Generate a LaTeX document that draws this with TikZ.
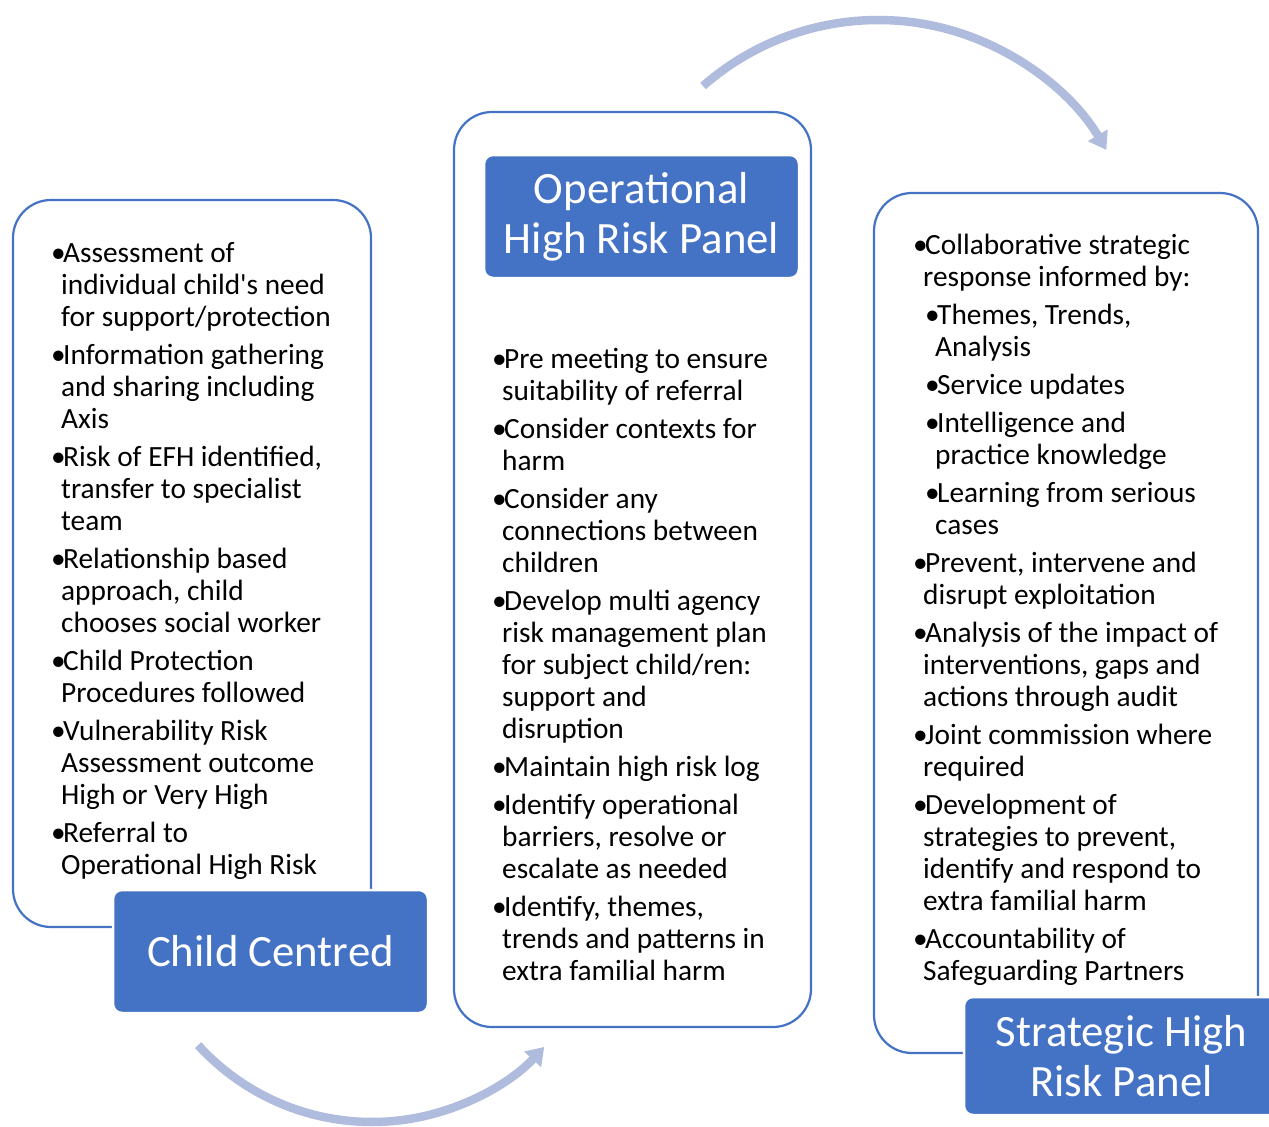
\documentclass[tikz,border=0pt]{standalone}
\usepackage{fontspec}
\setmainfont{Carlito}[Ligatures=TeXOff]
\usetikzlibrary{arrows.meta}

\definecolor{accent}{HTML}{4472C4}
\definecolor{cyclearrow}{RGB}{176,188,222}

% body text of the three columns and the stage titles
\newcommand{\colfont}{\fontsize{29.33pt}{32pt}\selectfont}
\newcommand{\headfont}{\fontsize{44.8pt}{50pt}\selectfont}

% a bulleted entry and an indented sub-entry
\newcommand{\colitem}[1]{\par\leftskip=0pt\hangindent=10pt\hangafter=1\noindent\makebox[12pt][l]{•}#1}
\newcommand{\colsubitem}[1]{\par\leftskip=12pt\hangindent=10pt\hangafter=1\noindent\makebox[12pt][l]{•}#1}
\newcommand{\colbox}[1]{\parbox[t]{380pt}{\colfont\setlength{\parskip}{6pt}#1}}

\tikzset{
  frame/.style={draw=accent, line width=2.2pt, fill=white, rounded corners=38pt, inner sep=0pt},
  titlebox/.style={fill=accent, draw=white, line width=2.5pt, rounded corners=9pt,
                   text=white, inner sep=0pt, align=center, font=\headfont},
  coltext/.style={anchor=base west, inner sep=0pt, text=black},
  cycle/.style={draw=cyclearrow, line width=8.5pt, -{Triangle[width=22pt,length=17pt]}}
}

\begin{document}
\begin{tikzpicture}[x=1pt, y=-1pt]
  \useasboundingbox (0,0) rectangle (1269,1127);

  % column frames
  \node[frame, minimum width=358pt, minimum height=727pt] (leftframe) at (192,563.5) {};
  \node[frame, minimum width=357pt, minimum height=915pt] (midframe) at (632.5,569.5) {};
  \node[frame, minimum width=384pt, minimum height=860pt] (rightframe) at (1066,623) {};

  % column contents
  \node[coltext] (lefttext) at (51,262) {\colbox{%
    \colitem{Assessment of\\individual child's need\\for support/protection}
    \colitem{Information gathering\\and sharing including\\Axis}
    \colitem{Risk of EFH identified,\\transfer to specialist\\team}
    \colitem{Relationship based\\approach, child\\chooses social worker}
    \colitem{Child Protection\\Procedures followed}
    \colitem{Vulnerability Risk\\Assessment outcome\\High or Very High}
    \colitem{Referral to\\Operational High Risk}}};

  \node[coltext] (midtext) at (492,368) {\colbox{%
    \colitem{Pre meeting to ensure\\suitability of referral}
    \colitem{Consider contexts for\\harm}
    \colitem{Consider any\\connections between\\children}
    \colitem{Develop multi agency\\risk management plan\\for subject child/ren:\\support and\\disruption}
    \colitem{Maintain high risk log}
    \colitem{Identify operational\\barriers, resolve or\\escalate as needed}
    \colitem{Identify, themes,\\trends and patterns in\\extra familial harm}}};

  \node[coltext] (righttext) at (913,254) {\colbox{%
    \colitem{Collaborative strategic\\response informed by:}
    \colsubitem{Themes, Trends,\\Analysis}
    \colsubitem{Service updates}
    \colsubitem{Intelligence and\\practice knowledge}
    \colsubitem{Learning from serious\\cases}
    \colitem{Prevent, intervene and\\disrupt exploitation}
    \colitem{Analysis of the impact of\\interventions, gaps and\\actions through audit}
    \colitem{Joint commission where\\required}
    \colitem{Development of\\strategies to prevent,\\identify and respond to\\extra familial harm}
    \colitem{Accountability of\\Safeguarding Partners}}};

  % cycle arrows between the stages
  \coordinate (topcentre) at (878.2,285.4);
  \coordinate (botcentre) at (372,886.9);
  \draw[cycle] ([shift={(-131.3:265.4)}]topcentre) arc[start angle=-131.3, end angle=-30.7, radius=265.4];
  \draw[cycle] ([shift={(137.7:235.1)}]botcentre) arc[start angle=137.7, end angle=42.9, radius=235.1];

  % stage titles
  \node[titlebox, minimum width=315pt, minimum height=123pt] (childcentred) at (270.5,951.5) {Child Centred};
  \node[titlebox, minimum width=315pt, minimum height=123pt] (operational) at (641.5,216.5) {Operational\\High Risk Panel};
  \node[titlebox, minimum width=315pt, minimum height=118pt] (strategic) at (1121.5,1056) {Strategic High\\Risk Panel};
\end{tikzpicture}
\end{document}
